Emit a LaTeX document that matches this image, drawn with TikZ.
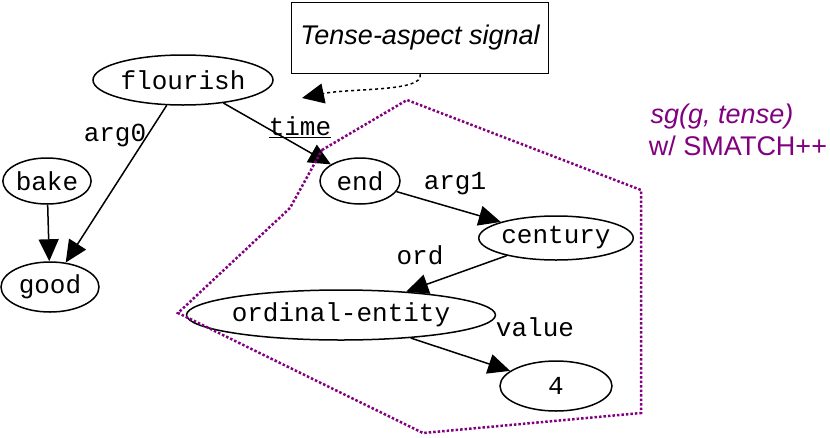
\documentclass[tikz,border=0pt]{standalone}
\usepackage{fontspec}
\setmainfont{Liberation Sans}
\setmonofont{Liberation Mono}
\usetikzlibrary{shapes.geometric,arrows.meta}
\definecolor{sgpurple}{RGB}{128,0,128}
\tikzset{
  concept/.style={draw, line width=1.5pt, ellipse, inner sep=0pt, font=\fontsize{26}{30}\selectfont\ttfamily},
  rel/.style={font=\fontsize{26}{30}\selectfont\ttfamily},
  edge/.style={-{Triangle[length=22pt,width=20pt]}, line width=1.5pt}
}
\begin{document}
\begin{tikzpicture}[x=1pt,y=-1pt]
\useasboundingbox (0,0) rectangle (830,437);
% concept nodes
\node[concept, minimum width=180pt, minimum height=50pt] (flourish) at (183,80) {flourish};
\node[concept, minimum width=78pt, minimum height=46pt] (bake) at (47,181) {bake};
\node[concept, minimum width=98pt, minimum height=50pt] (good) at (50,287) {good};
\node[concept, minimum width=80pt, minimum height=46pt] (end) at (360,181) {end};
\node[concept, minimum width=144pt, minimum height=44pt] (century) at (556,238) {century};
\node[concept, minimum width=254pt, minimum height=50pt] (ordinal) at (341,315) {ordinal-entity};
\node[concept, minimum width=112pt, minimum height=50pt] (four) at (556,386) {4};
% signal box
\node[draw, line width=1.5pt, minimum width=257pt, minimum height=71pt, font=\fontsize{27}{31}\selectfont\itshape] (signal) at (420,38) {Tense-aspect signal};
\node[rel] (time) at (300,127) {\underline{time}};
\coordinate (timetip) at (302,98);
% relation labels
\node[rel] (arg0) at (115,135) {arg0};
\node[rel] (arg1) at (455,184) {arg1};
\node[rel] (ord) at (420,255) {ord};
\node[rel] (value) at (535,327) {value};
% edges
\draw[edge] (flourish) -- (end);
\draw[edge] (flourish) -- (good);
\draw[edge] (bake) -- (good);
\draw[edge] (end) -- (century);
\draw[edge] (century) -- (ordinal);
\draw[edge] (ordinal) -- (four);
\draw[dashed, line width=1.5pt, -{Triangle[length=22pt,width=20pt]}] (signal.south) .. controls (425,92) and (350,88) .. (timetip);
% subgraph outline
\draw[sgpurple, dotted, line width=2.5pt] (322,150) -- (407,100) -- (641,190) -- (641,413) -- (423,433) -- (178,313) -- (290,208) -- cycle;
\node[sgpurple, font=\fontsize{27}{31}\selectfont\itshape] (sg) at (722,117) {sg(g, tense)};
\node[sgpurple, font=\fontsize{27}{31}\selectfont] (smatch) at (738,146) {w/ SMATCH++};
\end{tikzpicture}
\end{document}
